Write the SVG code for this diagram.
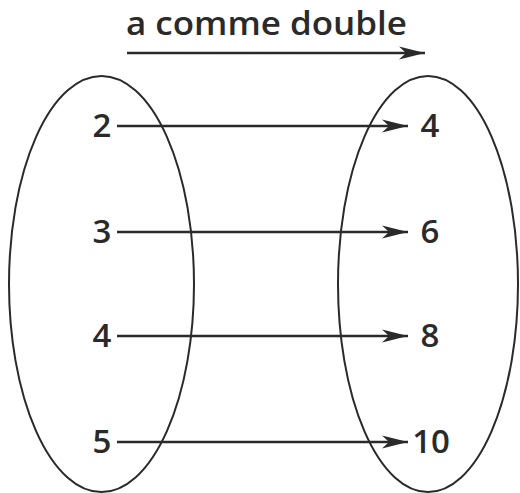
<svg xmlns="http://www.w3.org/2000/svg" width="520" height="493" viewBox="0 0 520 493">
<style>
.t{font-family:"Open Sans","Noto Sans","Liberation Sans",sans-serif;fill:#2a2a2a;font-size:33px;font-weight:600;text-anchor:middle}
.e{fill:none;stroke:#2a2a2a;stroke-width:2}
.c{fill:none;stroke:#2a2a2a;stroke-width:2.6;marker-end:url(#ah)}
</style>
<defs>
<marker id="ah" markerUnits="userSpaceOnUse" markerWidth="30" markerHeight="16" viewBox="-26 -8 30 16" refX="0" refY="0" orient="auto">
<path d="M0,0 L-26,-6.5 L-19,0 L-26,6.5 Z" fill="#2a2a2a"/>
</marker>
</defs>
<rect width="520" height="493" fill="#fff"/>
<g id="title">
<text class="t" x="266.5" y="35" font-size="34" font-weight="500" textLength="281" lengthAdjust="spacingAndGlyphs">a comme double</text>
</g>
<g id="set-left">
<ellipse class="e" cx="101.5" cy="284" rx="92.5" ry="208"/>
</g>
<g id="set-right">
<ellipse class="e" cx="428" cy="284" rx="90" ry="208"/>
</g>
<g id="n2"><text class="t" x="102" y="137">2</text></g>
<g id="n3"><text class="t" x="102" y="243">3</text></g>
<g id="n4"><text class="t" x="102" y="347">4</text></g>
<g id="n5"><text class="t" x="102" y="453">5</text></g>
<g id="m4"><text class="t" x="430" y="137">4</text></g>
<g id="m6"><text class="t" x="430" y="243">6</text></g>
<g id="m8"><text class="t" x="430" y="347">8</text></g>
<g id="m10"><text class="t" x="431" y="453">10</text></g>
<g id="connectors">
<line class="c" x1="127" y1="53" x2="425" y2="53"/>
<line class="c" x1="117" y1="126" x2="408" y2="126"/>
<line class="c" x1="117" y1="232" x2="408" y2="232"/>
<line class="c" x1="117" y1="336" x2="408" y2="336"/>
<line class="c" x1="117" y1="442" x2="408" y2="442"/>
</g>
</svg>
